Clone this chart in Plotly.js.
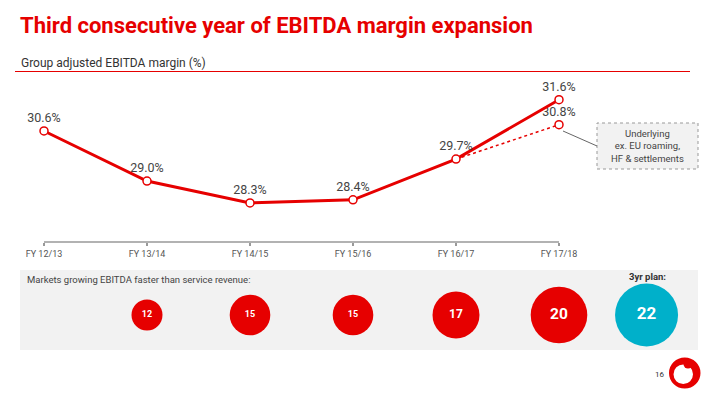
<!DOCTYPE html>
<html>
<head>
<meta charset="utf-8">
<script src="https://cdn.plot.ly/plotly-3.0.1.min.js"></script>
<style>html,body{margin:0;padding:0;background:#fff;}#chart{width:720px;height:405px;}</style>
</head>
<body>
<div id="chart"></div>
<script>
// ---- data ----
const categories = ['FY 12/13', 'FY 13/14', 'FY 14/15', 'FY 15/16', 'FY 16/17', 'FY 17/18'];
const marginValues = [30.6, 29.0, 28.3, 28.4, 29.7, 31.6];
const underlyingCategories = ['FY 16/17', 'FY 17/18'];
const underlyingValues = [29.7, 30.8];
const bubbleCategories = ['FY 13/14', 'FY 14/15', 'FY 15/16', 'FY 16/17', 'FY 17/18', '3yr plan'];
const bubbleValues = [12, 15, 15, 17, 20, 22];

// ---- styling ----
const RED = '#e60000';
const TEAL = '#00b0ca';
const FONT = 'Roboto, "Open Sans", sans-serif';
const W = 720, H = 405;
const px = x => x / W;
const py = y => 1 - y / H;
const planPos = 5.85; // horizontal slot for the plan bubble
const idx = c => { const i = categories.indexOf(c); return i >= 0 ? i : planPos; };

const mainTrace = {
  x: categories.map(idx), y: marginValues,
  mode: 'lines+markers+text',
  line: {color: RED, width: 3},
  marker: {size: 8, color: '#fff', opacity: 1, line: {color: RED, width: 1.5}},
  text: marginValues.map(v => v.toFixed(1) + '%'),
  textposition: 'top center',
  textfont: {family: FONT, size: 12.5, color: '#444'},
  cliponaxis: false, xaxis: 'x', yaxis: 'y', hoverinfo: 'skip'
};
const underlyingTrace = {
  x: underlyingCategories.map(idx), y: underlyingValues,
  mode: 'lines+markers+text',
  line: {color: RED, width: 1.5, dash: 'dot'},
  marker: {size: underlyingValues.map((v, i) => i === 0 ? 0 : 8), color: '#fff', opacity: 1, line: {color: RED, width: 1.5}},
  text: underlyingValues.map((v, i) => i === 0 ? '' : v.toFixed(1) + '%'),
  textposition: 'top center',
  textfont: {family: FONT, size: 12.5, color: '#444'},
  cliponaxis: false, xaxis: 'x', yaxis: 'y', hoverinfo: 'skip'
};
const bubbleTrace = {
  x: bubbleCategories.map(idx), y: bubbleValues.map(() => 0),
  mode: 'markers+text',
  marker: {
    size: bubbleValues.map(v => 3.2 * v - 7.4), sizemode: 'diameter', opacity: 1,
    color: bubbleCategories.map(c => c === '3yr plan' ? TEAL : RED), line: {width: 0}
  },
  text: bubbleValues.map(String),
  textposition: 'middle center',
  textfont: {family: FONT, size: bubbleValues.map(v => v >= 22 ? 17 : v >= 20 ? 15.5 : v >= 17 ? 12 : 9), color: '#fff', weight: 'bold'},
  cliponaxis: false, xaxis: 'x', yaxis: 'y2', hoverinfo: 'skip'
};

const layout = {
  width: W, height: H,
  margin: {l: 0, r: 0, t: 0, b: 0},
  paper_bgcolor: '#fff', plot_bgcolor: 'rgba(0,0,0,0)',
  showlegend: false, hovermode: false,
  title: {
    text: '<b>Third consecutive year of EBITDA margin expansion</b>',
    x: px(20), xanchor: 'left', xref: 'paper', y: py(25), yanchor: 'middle', yref: 'container',
    font: {family: FONT, size: 22, color: RED}
  },
  xaxis: {
    type: 'linear', range: [(0 - 44) / 103, (720 - 44) / 103], domain: [0, 1],
    tickvals: categories.map(idx), ticktext: categories,
    showgrid: false, zeroline: false, showline: false,
    ticks: 'outside', ticklen: 3, tickcolor: '#999', tickwidth: 1.5,
    tickfont: {family: FONT, size: 9, color: '#555'}, anchor: 'y', fixedrange: true
  },
  yaxis: {
    range: [27.05, 32.23], domain: [py(242), py(80)],
    visible: false, showgrid: false, zeroline: false, fixedrange: true
  },
  yaxis2: {
    range: [-1, 1], domain: [py(355), py(275)], anchor: 'x',
    visible: false, showgrid: false, zeroline: false, fixedrange: true
  },
  shapes: [
    // subtitle underline
    {type: 'line', xref: 'paper', yref: 'paper', x0: px(15), x1: px(690), y0: py(71.5), y1: py(71.5), line: {color: RED, width: 1}},
    // x axis line between first and last category
    {type: 'line', xref: 'x', yref: 'paper', x0: 0, x1: categories.length - 1, y0: py(242), y1: py(242), line: {color: '#999', width: 1.5}},
    // bottom panel
    {type: 'rect', xref: 'paper', yref: 'paper', x0: px(20), x1: px(698), y0: py(350), y1: py(270), fillcolor: '#f2f2f2', line: {width: 0}, layer: 'below'},
    // callout box & connector
    {type: 'rect', xref: 'paper', yref: 'paper', x0: px(597), x1: px(698), y0: py(169), y1: py(123), fillcolor: '#f2f2f2', line: {color: '#999', width: 1, dash: 'dot'}},
    {type: 'line', xref: 'paper', yref: 'paper', x0: px(563), x1: px(597), y0: py(131), y1: py(146), line: {color: '#666', width: 1}},
    // logo
    {type: 'circle', xref: 'paper', yref: 'paper', x0: px(669), x1: px(700.5), y0: py(388.5), y1: py(357.5), fillcolor: RED, line: {width: 0}},
    {type: 'circle', xref: 'paper', yref: 'paper', x0: px(673.5), x1: px(693), y0: py(384), y1: py(364.5), fillcolor: '#fff', line: {width: 0}},
    {type: 'circle', xref: 'paper', yref: 'paper', x0: px(683.5), x1: px(692.5), y0: py(368.5), y1: py(359.5), fillcolor: RED, line: {width: 0}}
  ],
  annotations: [
    {text: 'Group adjusted EBITDA margin (%)', xref: 'paper', yref: 'paper', x: px(19), y: py(63), xanchor: 'left', yanchor: 'middle', showarrow: false, font: {family: FONT, size: 12, color: '#333'}},
    {text: 'Underlying<br>ex. EU roaming,<br>HF &amp; settlements', xref: 'paper', yref: 'paper', x: px(647.5), y: py(146), xanchor: 'center', yanchor: 'middle', showarrow: false, align: 'center', font: {family: FONT, size: 9.5, color: '#444'}},
    {text: 'Markets growing EBITDA faster than service revenue:', xref: 'paper', yref: 'paper', x: px(25), y: py(279), xanchor: 'left', yanchor: 'middle', showarrow: false, font: {family: FONT, size: 9.5, color: '#444'}},
    {text: '<b>3yr plan:</b>', xref: 'paper', yref: 'paper', x: px(647.5), y: py(276), xanchor: 'center', yanchor: 'middle', showarrow: false, font: {family: FONT, size: 9.5, color: '#333'}},
    {text: '16', xref: 'paper', yref: 'paper', x: px(659), y: py(374), xanchor: 'center', yanchor: 'middle', showarrow: false, font: {family: FONT, size: 8, color: '#333'}}
  ]
};

Plotly.newPlot('chart', [underlyingTrace, mainTrace, bubbleTrace], layout, {staticPlot: true, displayModeBar: false});
</script>
</body>
</html>
